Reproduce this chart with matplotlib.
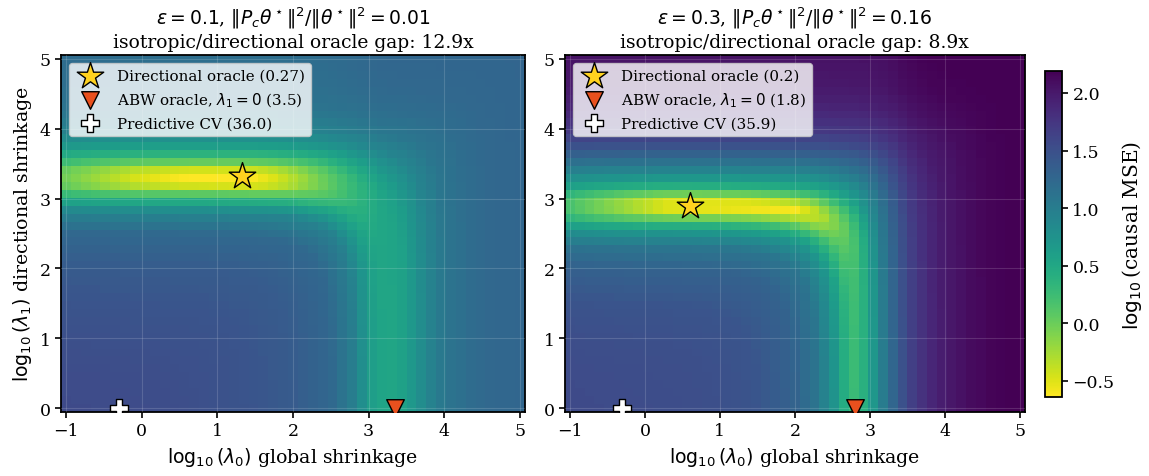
import numpy as np
import matplotlib
matplotlib.use("Agg")
import matplotlib.pyplot as plt

plt.rcParams["font.family"] = "DejaVu Serif"
plt.rcParams["mathtext.fontset"] = "dejavusans"

# log10 grid of the two shrinkage parameters
log_lam0 = np.linspace(-1, 5, 47)
log_lam1 = np.linspace(0, 5, 45)

# eps = 0.1 : MSE part driven by lambda0 alone, and part driven by lambda0 + lambda1
knots_a1 = [-1.1, -1.0, -0.5, 0.0, 0.5, 1.0, 1.3, 1.5, 2.0, 2.3, 2.6, 2.9, 3.1, 3.2, 3.35, 3.6, 4.0, 5.0, 5.1]
mse_a1 = [0.85, 0.8, 0.42, 0.2, 0.12, 0.1, 0.1, 0.12, 0.35, 0.7, 1.3, 2.2, 3.0, 3.2, 3.3, 3.4, 3.45, 3.5, 3.5]
knots_b1 = [-1.1, 0.0, 0.5, 1.0, 1.5, 2.0, 2.5, 2.8, 2.9, 3.0, 3.1, 3.2, 3.3, 3.4, 3.5, 3.6, 3.7, 3.8, 4.0, 4.3, 4.6, 5.0, 5.4]
mse_b1 = [35, 35, 34, 31, 28, 24, 17, 8, 4.5, 2.2, 0.8, 0.2, 0.12, 0.22, 0.8, 1.8, 3.2, 5.0, 8.5, 12, 14, 15, 15.5]

# eps = 0.3
knots_a2 = [-1.1, -1.0, -0.5, 0.0, 0.3, 0.6, 1.0, 1.5, 2.0, 2.3, 2.5, 2.7, 2.8, 2.9, 3.0, 3.2, 3.4, 3.6, 3.8, 4.0, 4.5, 5.0, 5.1]
mse_a2 = [1.4, 1.3, 0.6, 0.25, 0.12, 0.1, 0.1, 0.1, 0.15, 0.3, 0.6, 1.1, 1.5, 2.2, 3.5, 9, 20, 33, 40, 44, 45, 45, 45]
knots_b2 = [-1.1, 0.0, 0.5, 1.0, 1.5, 2.0, 2.3, 2.5, 2.6, 2.7, 2.8, 2.9, 3.0, 3.1, 3.2, 3.4, 3.6, 3.8, 4.0, 4.3, 4.6, 5.0, 5.4]
mse_b2 = [35, 35, 34, 32, 28, 20, 12, 5.5, 3, 1.2, 0.35, 0.1, 0.35, 1.3, 3, 8, 18, 35, 55, 80, 100, 112, 118]

titles = [
    r"$\varepsilon = 0.1$, $\|P_c\theta^\star\|^2/\|\theta^\star\|^2 = 0.01$" + "\nisotropic/directional oracle gap: 12.9x",
    r"$\varepsilon = 0.3$, $\|P_c\theta^\star\|^2/\|\theta^\star\|^2 = 0.16$" + "\nisotropic/directional oracle gap: 8.9x",
]
# (log10 lambda0, log10 lambda1, mse) for the three marked tunings
dir_oracle = [(1.33, 3.32, 0.27), (0.6, 2.89, 0.2)]
abw_oracle = [(3.35, 0.0, 3.5), (2.8, 0.0, 1.8)]
pred_cv = [(-0.3, 0.0, 36.0), (-0.3, 0.0, 35.9)]


def mse_grid(ka, va, kb, vb):
    X, Y = np.meshgrid(log_lam0, log_lam1)
    T = np.log10(10 ** X + 10 ** Y)
    a = 10 ** np.interp(X, ka, np.log10(va))
    b = 10 ** np.interp(T, kb, np.log10(vb))
    return np.log10(a + b)


grids = [mse_grid(knots_a1, mse_a1, knots_b1, mse_b1),
         mse_grid(knots_a2, mse_a2, knots_b2, mse_b2)]

fig = plt.figure(figsize=(11.49, 4.77), dpi=100)
axes = [fig.add_axes([0.0531, 0.1342, 0.4038, 0.7484]),
        fig.add_axes([0.4917, 0.1342, 0.4003, 0.7484])]
cax = fig.add_axes([0.9095, 0.1656, 0.0148, 0.6834])

for i, ax in enumerate(axes):
    mesh = ax.pcolormesh(log_lam0, log_lam1, grids[i], cmap="viridis_r",
                         vmin=-0.64, vmax=2.19, shading="nearest")
    ax.grid(True, color="white", alpha=0.15, linewidth=0.8)
    ax.set_axisbelow(False)
    d = dir_oracle[i]
    a = abw_oracle[i]
    c = pred_cv[i]
    ax.scatter([d[0]], [d[1]], marker="*", s=400, color="#FFD21F", edgecolor="black",
               linewidth=1.0, zorder=5, label="Directional oracle (%g)" % d[2])
    ax.scatter([a[0]], [a[1]], marker="v", s=160, color="#E8501E", edgecolor="black",
               linewidth=1.0, zorder=5, label=r"ABW oracle, $\lambda_1 = 0$ (%g)" % a[2])
    ax.scatter([c[0]], [c[1]], marker="P", s=150, color="white", edgecolor="black",
               linewidth=1.0, zorder=5, label="Predictive CV (%.1f)" % c[2])
    ax.legend(loc="upper left", fontsize=10.9, framealpha=0.8)
    ax.set_title(titles[i], fontsize=13.5)
    ax.set_xlabel(r"$\log_{10}(\lambda_0)$ global shrinkage", fontsize=13.6)
    ax.set_xticks([-1, 0, 1, 2, 3, 4, 5])
    ax.set_yticks([0, 1, 2, 3, 4, 5])
    ax.tick_params(labelsize=12.5, width=1.2, length=4)
    for sp in ax.spines.values():
        sp.set_linewidth(1.3)

axes[0].set_ylabel(r"$\log_{10}(\lambda_1)$ directional shrinkage", fontsize=13.6)

cb = fig.colorbar(mesh, cax=cax)
cb.set_label(r"$\log_{10}$(causal MSE)", fontsize=14.5)
cb.ax.tick_params(labelsize=12.5, width=1.2, length=4)
cb.outline.set_linewidth(1.3)

fig.savefig("out.png", dpi=100)
